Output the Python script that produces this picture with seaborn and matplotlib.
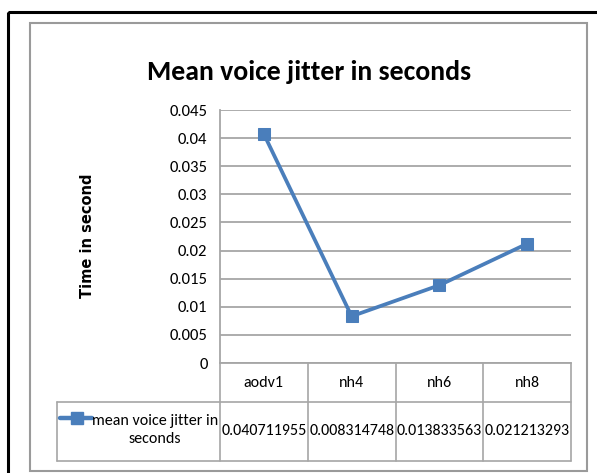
import numpy as np
import pandas as pd
import matplotlib
matplotlib.use("Agg")
import matplotlib.pyplot as plt
import matplotlib.transforms as mtransforms
from matplotlib.lines import Line2D
from matplotlib.patches import Rectangle
from matplotlib.ticker import FuncFormatter
import seaborn as sns

# ***** data ***** #
categories = ["aodv1", "nh4", "nh6", "nh8"]
jitter = [0.040711955, 0.008314748, 0.013833563, 0.021213293]
value_labels = ["0.040711955", "0.008314748", "0.013833563", "0.021213293"]
series_name = "mean voice jitter in\nseconds"
title = "Mean voice jitter in seconds"
ylabel = "Time in second"
yticks = [0, 0.005, 0.01, 0.015, 0.02, 0.025, 0.03, 0.035, 0.04, 0.045]

sns.set_style("white")
plt.rcParams["font.family"] = ["Carlito", "DejaVu Sans"]
plt.rcParams["text.color"] = "black"
plt.rcParams["ytick.labelcolor"] = "black"

W, H = 597, 473
blue = "#4A7EBB"
grey = "#A6A6A6"
fs = 11.5

fig = plt.figure(figsize=(W / 100, H / 100), dpi=100)
# pixel transform (origin top-left)
px = mtransforms.Affine2D().scale(1 / W, -1 / H).translate(0, 1) + fig.transFigure

ax = fig.add_axes([220 / W, (H - 363) / H, (571 - 220) / W, (363 - 110) / H])

df = pd.DataFrame({"run": categories, "jitter": jitter})
sns.lineplot(data=df, x="run", y="jitter", sort=False, marker="s", markersize=8,
             color=blue, linewidth=2.7, markeredgecolor=blue, ax=ax)

ax.set_xlim(-0.5, len(categories) - 0.5)
ax.set_ylim(0, 0.045)
ax.set_yticks(yticks)
ax.yaxis.set_major_formatter(FuncFormatter(lambda v, p: "%g" % v))
ax.grid(axis="y", color=grey, linewidth=1.3)
ax.set_axisbelow(True)
ax.set_xticks([])
ax.set_xlabel("")
ax.set_ylabel("")
ax.tick_params(axis="y", length=5, width=1.2, color=grey, labelsize=fs + 0.5, pad=4)
for s in ["top", "right"]:
    ax.spines[s].set_visible(False)
for s in ["left", "bottom"]:
    ax.spines[s].set_color(grey)
    ax.spines[s].set_linewidth(1.3)

# title and y label
fig.text(309, 80, title, ha="center", va="baseline", fontsize=20, fontweight="bold", transform=px)
fig.text(88, 236, ylabel, ha="center", va="center", rotation=90,
         fontsize=10.5, fontweight="bold", family=["DejaVu Sans"], transform=px)

# ***** data table under the plot ***** #
bt = mtransforms.blended_transform_factory(ax.transData, px)
for i in range(len(categories) + 1):
    fig.add_artist(Line2D([i - 0.5, i - 0.5], [363, 461], color=grey, lw=1.2, transform=bt))
for y in [402, 461]:
    fig.add_artist(Line2D([57, 571], [y, y], color=grey, lw=1.2, transform=px))
fig.add_artist(Line2D([57, 57], [402, 461], color=grey, lw=1.2, transform=px))

for i, (c, v) in enumerate(zip(categories, value_labels)):
    fig.text(i, 383, c, ha="center", va="center", fontsize=fs, transform=bt)
    fig.text(i, 431, v, ha="center", va="center", fontsize=fs, transform=bt)

fig.add_artist(Line2D([60, 77, 92], [418, 418, 418], color=blue, lw=3.2, marker="s",
                      markersize=8, markevery=[1], transform=px))
fig.text(155, 430, series_name, ha="center", va="center", fontsize=fs,
         linespacing=1.3, transform=px)

# chart borders
fig.add_artist(Rectangle((30, 23), 557, 448, fill=False, edgecolor="#9A9A9A", lw=1.5, transform=px))
fig.add_artist(Rectangle((8, 12), 600, 470, fill=False, edgecolor="black", lw=2.2, transform=px))

fig.savefig("out.png", dpi=100)
